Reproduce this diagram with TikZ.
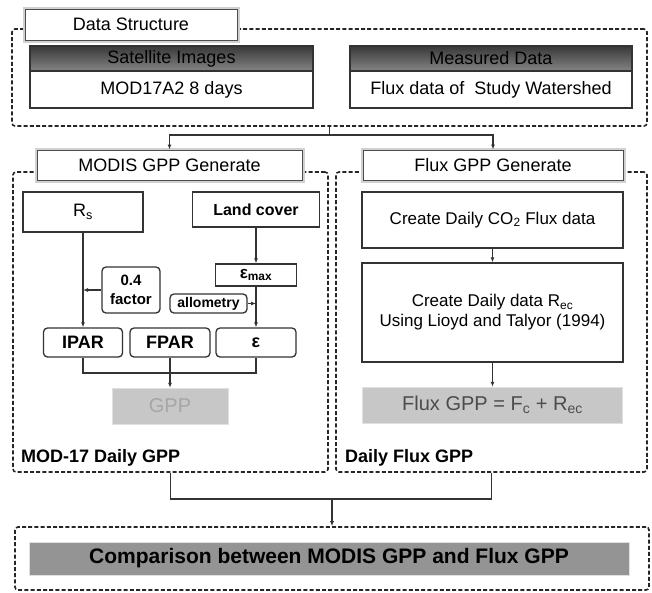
\documentclass[tikz,border=0pt]{standalone}
\usepackage{fontspec}
\setmainfont{Liberation Sans}
\usetikzlibrary{arrows.meta}

\tikzset{
  dashframe/.style={draw=black!85, line width=1.6pt, rounded corners=3pt, dash pattern=on 4pt off 2.2pt, inner sep=0},
  tabbox/.style={draw=black!70, fill=white, line width=1pt, preaction={draw=black!18, line width=5pt}, inner sep=0, font=\fontsize{18}{21}\selectfont},
  headbox/.style={draw=black!80, line width=1.2pt, top color=black!78, bottom color=black!48, inner sep=0, font=\fontsize{18}{21}\selectfont},
  databox/.style={draw=black!80, line width=1.3pt, fill=white, inner sep=0, align=center, font=\fontsize{17}{20}\selectfont},
  smallbox/.style={draw=black!80, line width=1.3pt, rounded corners=4pt, fill=white, inner sep=0, align=center, font=\bfseries\fontsize{16}{18}\selectfont},
  greybox/.style={fill=black!22, draw=black!12, inner sep=0, font=\fontsize{20}{23}\selectfont},
  framelabel/.style={anchor=base west, inner sep=0, font=\bfseries\fontsize{18}{21}\selectfont},
  link/.style={line width=1.3pt, draw=black!80}
}

\begin{document}
\begin{tikzpicture}[x=1pt, y=-1pt, >={Latex[length=5pt,width=4pt]}]
    \useasboundingbox (0,0) rectangle (652,592);

    % Dashed frames
    \node (dsframe) [dashframe, minimum width=635, minimum height=97] at (329.5,77.5) {};
    \node (modframe) [dashframe, minimum width=315, minimum height=300] at (170.5,322) {};
    \node (fluxframe) [dashframe, minimum width=311, minimum height=300] at (491.5,322) {};
    \node (cmpframe) [dashframe, minimum width=634, minimum height=63] at (332,558.5) {};

    % Data structure
    \node (dstab) [tabbox, minimum width=212, minimum height=31] at (131,24.5) {Data Structure};
    \node (sathead) [headbox, minimum width=283, minimum height=25] at (171.5,58.5) {Satellite Images};
    \node (satbody) [databox, font=\fontsize{18}{21}\selectfont, minimum width=283, minimum height=37] at (171.5,89.5) {MOD17A2 8 days};
    \node (meashead) [headbox, minimum width=282, minimum height=25] at (491,58.5) {Measured Data};
    \node (measbody) [databox, font=\fontsize{18}{21}\selectfont, minimum width=282, minimum height=37] at (491,89.5) {Flux data of \ Study Watershed};

    % Tabs of the two branches
    \node (modtab) [tabbox, minimum width=265, minimum height=30] at (169.5,165) {MODIS GPP Generate};
    \node (fluxtab) [tabbox, minimum width=260, minimum height=30] at (493,165) {Flux GPP Generate};

    % MODIS branch
    \node (rs) [databox, font=\fontsize{18}{21}\selectfont, minimum width=120, minimum height=40] at (83,212) {R\textsubscript{s}};
    \node (land) [databox, font=\bfseries\fontsize{16}{18}\selectfont, minimum width=127, minimum height=35] at (256,209.5) {Land cover};
    \node (emax) [databox, font=\bfseries\fontsize{17}{19}\selectfont, minimum width=81, minimum height=22] at (256,275) {ε\textsubscript{max}};
    \node (factor) [smallbox, font=\bfseries\fontsize{15}{19}\selectfont, minimum width=58, minimum height=46] at (131,290) {0.4\\factor};
    \node (allom) [smallbox, font=\bfseries\fontsize{14}{16}\selectfont, minimum width=77, minimum height=19] at (208.5,303.5) {allometry};
    \node (ipar) [smallbox, font=\bfseries\fontsize{18}{21}\selectfont, minimum width=79, minimum height=29] at (83,342.5) {IPAR};
    \node (fpar) [smallbox, font=\bfseries\fontsize{18}{21}\selectfont, minimum width=80, minimum height=29] at (170,342.5) {FPAR};
    \node (eps) [smallbox, font=\bfseries\fontsize{18}{21}\selectfont, minimum width=80, minimum height=29] at (256,342.5) {ε};
    \node (gpp) [greybox, text=black!35, minimum width=116, minimum height=36] at (170,406) {GPP};
    \node (modlabel) [framelabel] at (21,462) {MOD-17 Daily GPP};

    % Flux branch
    \node (co2) [databox, minimum width=261, minimum height=56] at (492.5,220) {Create Daily CO\textsubscript{2} Flux data};
    \node (rec) [databox, minimum width=261, minimum height=99] at (492.5,312.5) {Create Daily data R\textsubscript{ec}\\Using Lioyd and Talyor (1994)};
    \node (fluxgpp) [greybox, text=black!70, minimum width=260, minimum height=36] at (492.5,405) {Flux GPP = F\textsubscript{c} + R\textsubscript{ec}};
    \node (fluxlabel) [framelabel] at (345,462) {Daily Flux GPP};

    % Comparison
    \node (cmp) [greybox, fill=black!42, font=\bfseries\fontsize{21}{24}\selectfont, minimum width=600, minimum height=33] at (329,558.5) {Comparison between MODIS GPP and Flux GPP};

    % Arrows
    \coordinate (ds-j) at (329.5,135);
    \draw[link] (dsframe.south) -- (ds-j);
    \draw[link, ->] (ds-j) -| (modtab.north);
    \draw[link, ->] (ds-j) -| (fluxtab.north);

    \draw[link, ->] (rs.south) -- (ipar.north);
    \draw[link, ->] (factor.west) -- (factor.west -| rs.south);
    \draw[link, ->] (land.south) -- (emax.north);
    \draw[link, ->] (emax.south) -- (eps.north);
    \draw[link, ->] (allom.east) -- (allom.east -| emax.south);

    \coordinate (gpp-j) at (170,373);
    \draw[link] (ipar.south) |- (gpp-j) -| (eps.south);
    \draw[link, ->] (fpar.south) -- (gpp.north);

    \draw[link, ->] (co2.south) -- (rec.north);
    \draw[link, ->] (rec.south) -- (fluxgpp.north);

    \coordinate (cmp-j) at (332,499);
    \draw[link] (modframe.south) |- (cmp-j) -| (fluxframe.south);
    \draw[link, ->] (cmp-j) -- (cmpframe.north);
\end{tikzpicture}
\end{document}
